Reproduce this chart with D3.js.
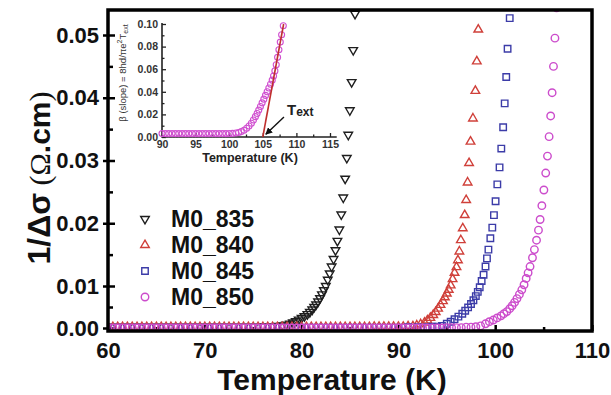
<!DOCTYPE html>
<html>
<head>
<meta charset="utf-8">
<script src="https://cdn.jsdelivr.net/npm/d3@7/dist/d3.min.js"></script>
<style>
  body { margin: 0; background: #fff; }
  svg { display: block; font-family: "Liberation Sans", Arial, sans-serif; }
</style>
</head>
<body>
<svg id="svg" width="611" height="395"></svg>
<script>
// main plot ticks
const X_TICKS = [60, 70, 80, 90, 100, 110];
const X_MINOR = [65, 75, 85, 95, 105];
const Y_TICKS = [0, 0.01, 0.02, 0.03, 0.04, 0.05];
const Y_MINOR = [0.005, 0.015, 0.025, 0.035, 0.045];

const SERIES_NAMES = ['M0_835', 'M0_840', 'M0_845', 'M0_850'];

// [temperature K, 1/dsigma]
const M0_835 = [
  [60, 0.0003], [61, 0.0003], [62, 0.0003], [63, 0.0003], [64, 0.0003], [65, 0.0003], [66, 0.0003],
  [67, 0.0003], [68, 0.0003], [69, 0.0003], [70, 0.0003], [71, 0.0003], [72, 0.0003], [73, 0.0003],
  [74, 0.0003], [75, 0.0003], [76, 0.0004], [77, 0.0004], [77.5, 0.0005], [78, 0.0006], [78.4, 0.0008],
  [78.8, 0.0010], [79.1, 0.0013], [79.4, 0.0016], [79.7, 0.0020], [80.0, 0.0024], [80.3, 0.0028],
  [80.6, 0.0033], [80.85, 0.0038], [81.1, 0.0044], [81.3, 0.0050], [81.5, 0.0056], [81.7, 0.0063],
  [81.9, 0.0071], [82.1, 0.0080], [82.3, 0.0090], [82.5, 0.0100], [82.7, 0.0110], [82.9, 0.0120],
  [83.1, 0.0131], [83.3, 0.0143], [83.5, 0.0157], [83.7, 0.0172], [83.9, 0.0190], [84.1, 0.0214],
  [84.3, 0.0241], [84.5, 0.0271], [84.67, 0.0304], [84.82, 0.0341], [84.98, 0.0380], [85.17, 0.0425],
  [85.33, 0.0476], [85.52, 0.0535]
];

const M0_840 = [
  [60, 0.0002], [60.5, 0.0002], [61, 0.0002], [61.5, 0.0002], [62, 0.0002], [62.5, 0.0002], [63, 0.0002],
  [63.5, 0.0002], [64, 0.0002], [64.5, 0.0002], [65, 0.0002], [65.5, 0.0002], [66, 0.0002], [66.5, 0.0002],
  [67, 0.0002], [67.5, 0.0002], [68, 0.0002], [68.5, 0.0002], [69, 0.0002], [69.5, 0.0002], [70, 0.0002],
  [70.5, 0.0002], [71, 0.0002], [71.5, 0.0002], [72, 0.0002], [72.5, 0.0002], [73, 0.0002], [73.5, 0.0002],
  [74, 0.0002], [74.5, 0.0002], [75, 0.0002], [75.5, 0.0002], [76, 0.0002], [76.5, 0.0002], [77, 0.0002],
  [77.5, 0.0002], [78, 0.0002], [78.5, 0.0002], [79, 0.0002], [79.5, 0.0002], [80, 0.0002], [80.5, 0.0002],
  [81, 0.0002], [81.5, 0.0002], [82, 0.0002], [82.5, 0.0002], [83, 0.0002], [83.5, 0.0002], [84, 0.0002],
  [84.5, 0.0002], [85, 0.0002], [85.5, 0.0002], [86, 0.0002], [86.5, 0.0002], [87, 0.0002], [87.5, 0.0003],
  [88, 0.0003], [88.5, 0.0003], [89, 0.0003], [89.5, 0.0003], [90, 0.0003], [90.5, 0.0003], [91, 0.0004],
  [91.5, 0.0004], [91.9, 0.0006], [92.3, 0.0009], [92.7, 0.0013], [93.0, 0.0018], [93.3, 0.0024],
  [93.6, 0.0031], [93.85, 0.0038], [94.1, 0.0046], [94.35, 0.0055], [94.6, 0.0064], [94.8, 0.0073],
  [95.0, 0.0082], [95.2, 0.0091], [95.4, 0.0101], [95.6, 0.0111], [95.8, 0.0121], [96.0, 0.0130],
  [96.15, 0.0141], [96.3, 0.0155], [96.45, 0.0173], [96.65, 0.0192], [96.85, 0.0213], [97.0, 0.0237],
  [97.15, 0.0265], [97.3, 0.0296], [97.45, 0.0330], [97.7, 0.0367], [97.95, 0.0411], [98.1, 0.0458],
  [98.25, 0.0509]
];

const M0_845 = [
  [60, 0.0001], [61, 0.0001], [62, 0.0001], [63, 0.0001], [64, 0.0001], [65, 0.0001], [66, 0.0001],
  [67, 0.0001], [68, 0.0001], [69, 0.0001], [70, 0.0001], [71, 0.0001], [72, 0.0001], [73, 0.0001],
  [74, 0.0001], [75, 0.0001], [76, 0.0001], [77, 0.0001], [78, 0.0001], [79, 0.0001], [80, 0.0001],
  [81, 0.0001], [82, 0.0001], [83, 0.0001], [84, 0.0001], [85, 0.0001], [86, 0.0001], [87, 0.0001],
  [88, 0.0001], [89, 0.0001], [90, 0.0001], [91, 0.0002], [92, 0.0002], [93, 0.0002], [93.5, 0.0003],
  [94, 0.0003], [94.5, 0.0005], [95.0, 0.0010], [95.4, 0.0015], [95.8, 0.0021], [96.2, 0.0027],
  [96.6, 0.0034], [96.9, 0.0041], [97.2, 0.0049], [97.5, 0.0057], [97.75, 0.0066], [98.0, 0.0076],
  [98.2, 0.0086], [98.4, 0.0097], [98.6, 0.0108], [98.8, 0.0118], [99.0, 0.0131], [99.15, 0.0144],
  [99.3, 0.0158], [99.5, 0.0176], [99.7, 0.0193], [99.87, 0.0213], [100.04, 0.0235], [100.22, 0.0262],
  [100.45, 0.0289], [100.63, 0.0319], [100.82, 0.0353], [100.98, 0.0391], [101.14, 0.0433],
  [101.28, 0.0478], [101.5, 0.0528]
];

const M0_850 = [
  [60, 0.0000], [60.5, 0.0000], [61, 0.0000], [61.5, 0.0000], [62, 0.0000], [62.5, 0.0000], [63, 0.0000],
  [63.5, 0.0000], [64, 0.0000], [64.5, 0.0000], [65, 0.0000], [65.5, 0.0000], [66, 0.0000], [66.5, 0.0000],
  [67, 0.0000], [67.5, 0.0000], [68, 0.0000], [68.5, 0.0000], [69, 0.0000], [69.5, 0.0000], [70, 0.0000],
  [70.5, 0.0000], [71, 0.0000], [71.5, 0.0000], [72, 0.0000], [72.5, 0.0000], [73, 0.0000], [73.5, 0.0000],
  [74, 0.0000], [74.5, 0.0000], [75, 0.0000], [75.5, 0.0000], [76, 0.0000], [76.5, 0.0000], [77, 0.0000],
  [77.5, 0.0000], [78, 0.0000], [78.5, 0.0000], [79, 0.0000], [79.5, 0.0000], [80, 0.0000], [80.5, 0.0000],
  [81, 0.0000], [81.5, 0.0000], [82, 0.0000], [82.5, 0.0000], [83, 0.0000], [83.5, 0.0000], [84, 0.0000],
  [84.5, 0.0000], [85, 0.0000], [85.5, 0.0000], [86, 0.0000], [86.5, 0.0000], [87, 0.0000], [87.5, 0.0000],
  [88, 0.0000], [88.5, 0.0000], [89, 0.0000], [89.5, 0.0000], [90, 0.0000], [90.5, 0.0000], [91, 0.0000],
  [91.5, 0.0000], [92, 0.0000], [92.5, 0.0000], [93, 0.0000], [93.5, 0.0000], [94, 0.0000], [94.5, 0.0000],
  [95, 0.0001], [95.5, 0.0001], [96, 0.0001], [96.5, 0.0001], [97, 0.0002], [97.5, 0.0002], [98, 0.0003],
  [98.5, 0.0005], [99.0, 0.0010], [99.4, 0.0015], [99.8, 0.0019], [100.2, 0.0024], [100.6, 0.0029],
  [100.9, 0.0034], [101.2, 0.0039], [101.5, 0.0046], [101.75, 0.0053], [102.0, 0.0061], [102.25, 0.0070],
  [102.5, 0.0080], [102.75, 0.0091], [102.98, 0.0102], [103.2, 0.0112], [103.4, 0.0121], [103.6, 0.0131],
  [103.85, 0.0145], [104.05, 0.0158], [104.27, 0.0173], [104.47, 0.0189], [104.64, 0.0206], [104.82, 0.0228],
  [105.03, 0.0253], [105.22, 0.0280], [105.4, 0.0307], [105.57, 0.0338], [105.73, 0.0371], [105.88, 0.0408],
  [106.02, 0.0450], [106.17, 0.0495], [106.34, 0.0545]
];

// inset: beta (slope) vs temperature, with linear fit giving T_ext
const INSET_X_TICKS = [90, 95, 100, 105, 110, 115];
const INSET_X_MINOR = [92.5, 97.5, 102.5, 107.5, 112.5];
const INSET_Y_TICKS = [0, 0.02, 0.04, 0.06, 0.08, 0.10];
const INSET_Y_MINOR = [0.01, 0.03, 0.05, 0.07, 0.09];
const INSET_DATA = [
  [90, 0.003], [90.5, 0.003], [91, 0.003], [91.5, 0.003], [92, 0.003], [92.5, 0.003], [93, 0.003],
  [93.5, 0.003], [94, 0.003], [94.5, 0.003], [95, 0.003], [95.5, 0.003], [96, 0.003], [96.5, 0.003],
  [97, 0.003], [97.5, 0.003], [98, 0.003], [98.5, 0.003], [99, 0.003], [99.5, 0.003], [100, 0.0031],
  [100.5, 0.0032], [101.0, 0.0035], [101.4, 0.0040], [101.8, 0.0048], [102.2, 0.0060], [102.6, 0.0077],
  [102.95, 0.0097], [103.3, 0.0122], [103.6, 0.0150], [103.9, 0.0180], [104.15, 0.0208], [104.4, 0.0238],
  [104.65, 0.0270], [104.9, 0.0302], [105.15, 0.0335], [105.4, 0.0368], [105.65, 0.0400], [105.9, 0.0433],
  [106.15, 0.0467], [106.4, 0.0503], [106.6, 0.0540], [106.8, 0.0585], [107.0, 0.0640], [107.2, 0.0705],
  [107.4, 0.0772], [107.6, 0.0840], [107.8, 0.0905], [108.05, 0.0985]
];
const INSET_FIT = [[105.0, 0], [108.1, 0.1]];
const T_EXT_LABEL = [108.6, 0.0195];
const T_EXT_ARROW = [[108.15, 0.0177], [105.45, 0.0025]];

const svg = d3.select('#svg');

const plotLeft = 108, plotRight = 592, plotTop = 10, plotBottom = 331;

const x = d3.scaleLinear().domain([60, 110]).range([plotLeft, plotRight]);
// the printed axis is squeezed between 0.00 and 0.01
const y = d3.scaleLinear()
  .domain([-0.0007, 0, 0.01, 0.05, 0.05414])
  .range([plotBottom, 328, 286, 35, plotTop]);

const defs = svg.append('defs');
defs.append('clipPath').attr('id', 'plotclip')
  .append('rect').attr('x', plotLeft).attr('y', plotTop)
  .attr('width', plotRight - plotLeft).attr('height', plotBottom - plotTop);

// ticks: x inward, y major ticks cross the axis
const gx = svg.append('g').attr('transform', `translate(0,${plotBottom})`)
  .call(d3.axisBottom(x).tickValues(X_TICKS).tickSize(-6).tickPadding(11).tickFormat(d3.format('d')));
gx.select('.domain').remove();
gx.selectAll('line').attr('stroke', '#000').attr('stroke-width', 2.5);
gx.selectAll('text').attr('font-size', 22).attr('font-weight', 'bold').attr('fill', '#111');
svg.append('g').attr('transform', `translate(0,${plotBottom})`)
  .call(d3.axisBottom(x).tickValues(X_MINOR).tickSize(-4).tickFormat(''))
  .call(g => g.select('.domain').remove())
  .selectAll('line').attr('stroke', '#000').attr('stroke-width', 2.5);

const gy = svg.append('g').attr('transform', `translate(${plotLeft},0)`)
  .call(d3.axisLeft(y).tickValues(Y_TICKS).tickSize(-7).tickPadding(9).tickFormat(d3.format('.2f')));
gy.select('.domain').remove();
gy.selectAll('line').attr('x1', -5).attr('stroke', '#000').attr('stroke-width', 2.5);
gy.selectAll('text').attr('font-size', 22).attr('font-weight', 'bold').attr('fill', '#111');
svg.append('g').attr('transform', `translate(${plotLeft},0)`)
  .call(d3.axisLeft(y).tickValues(Y_MINOR).tickSize(-5).tickFormat(''))
  .call(g => g.select('.domain').remove())
  .selectAll('line').attr('stroke', '#000').attr('stroke-width', 2.5);

// series
const series = [
  { name: SERIES_NAMES[0], data: M0_835, type: d3.symbolTriangle, rot: 180, size: 32, color: '#1e1e1e' },
  { name: SERIES_NAMES[1], data: M0_840, type: d3.symbolTriangle, rot: 0, size: 32, color: '#d0403a' },
  { name: SERIES_NAMES[2], data: M0_845, type: d3.symbolSquare, rot: 0, size: 42, color: '#3c3ca8' },
  { name: SERIES_NAMES[3], data: M0_850, type: d3.symbolCircle, rot: 0, size: 44, color: '#cc4ccc' }
];

const plot = svg.append('g').attr('clip-path', 'url(#plotclip)');
series.forEach(s => {
  plot.append('g').selectAll('path')
    .data(s.data)
    .enter()
    .append('path')
    .attr('d', d3.symbol().type(s.type).size(s.size))
    .attr('transform', d => `translate(${x(d[0])},${y(d[1])}) rotate(${s.rot})`)
    .attr('fill', 'none')
    .attr('stroke', s.color)
    .attr('stroke-width', 1.4);
});

// frame
svg.append('rect')
  .attr('x', plotLeft).attr('y', plotTop)
  .attr('width', plotRight - plotLeft).attr('height', plotBottom - plotTop)
  .attr('fill', 'none').attr('stroke', '#000').attr('stroke-width', 3.5);

// legend
const legend = svg.append('g');
series.forEach((s, i) => {
  const ly = 219 + i * 26;
  legend.append('path')
    .attr('d', d3.symbol().type(s.type).size(s.size))
    .attr('transform', `translate(145,${ly}) rotate(${s.rot})`)
    .attr('fill', 'none').attr('stroke', s.color).attr('stroke-width', 1.4);
  legend.append('text')
    .attr('x', 171).attr('y', ly + 8)
    .attr('font-size', 23).attr('font-weight', 'bold').attr('fill', '#111')
    .text(s.name);
});

// axis titles
svg.append('text')
  .attr('x', 332).attr('y', 390)
  .attr('text-anchor', 'middle').attr('font-size', 30).attr('font-weight', 'bold').attr('fill', '#111')
  .text('Temperature (K)');

const yt = svg.append('text')
  .attr('transform', 'translate(50,178) rotate(-90)')
  .attr('text-anchor', 'middle').attr('fill', '#111');
yt.append('tspan').attr('font-size', 32).attr('font-weight', 'bold').text('1/Δσ');
yt.append('tspan').attr('font-size', 30).attr('font-family', '"Liberation Serif", serif').text(' (Ω');
yt.append('tspan').attr('font-size', 30).attr('font-weight', 'bold').text('.cm');
yt.append('tspan').attr('font-size', 30).attr('font-family', '"Liberation Serif", serif').text(')');

// inset
const ix = d3.scaleLinear().domain([90, 115]).range([162, 330]);
const iy = d3.scaleLinear().domain([0, 0.10]).range([137, 24]);
const inset = svg.append('g');

const igx = inset.append('g').attr('transform', 'translate(0,137)')
  .call(d3.axisBottom(ix).tickValues(INSET_X_TICKS).tickSize(-4).tickPadding(3.5).tickFormat(d3.format('d')));
igx.select('.domain').remove();
igx.selectAll('text').attr('font-size', 10.5).attr('font-weight', 'bold').attr('fill', '#333');
inset.append('g').attr('transform', 'translate(0,137)')
  .call(d3.axisBottom(ix).tickValues(INSET_X_MINOR).tickSize(-2.5).tickFormat(''))
  .call(g => g.select('.domain').remove());

const igy = inset.append('g').attr('transform', 'translate(162,0)')
  .call(d3.axisLeft(iy).tickValues(INSET_Y_TICKS).tickSize(-4).tickPadding(4).tickFormat(d3.format('.2f')));
igy.select('.domain').remove();
igy.selectAll('text').attr('font-size', 10.5).attr('font-weight', 'bold').attr('fill', '#333');
inset.append('g').attr('transform', 'translate(162,0)')
  .call(d3.axisLeft(iy).tickValues(INSET_Y_MINOR).tickSize(-2.5).tickFormat(''))
  .call(g => g.select('.domain').remove());
inset.selectAll('.tick line').attr('stroke', '#222').attr('stroke-width', 1.3);

inset.append('path')
  .attr('d', `M162,${iy(0.10) - 1}V137H${ix(116)}`)
  .attr('fill', 'none').attr('stroke', '#222').attr('stroke-width', 1.6);

inset.append('g').selectAll('circle')
  .data(INSET_DATA)
  .enter()
  .append('circle')
  .attr('cx', d => ix(d[0]))
  .attr('cy', d => iy(d[1]))
  .attr('r', 3)
  .attr('fill', 'none')
  .attr('stroke', '#d050d0')
  .attr('stroke-width', 1.1);

inset.append('path')
  .datum(INSET_FIT)
  .attr('d', d3.line().x(d => ix(d[0])).y(d => iy(d[1])))
  .attr('stroke', '#c0302e').attr('stroke-width', 1.6).attr('fill', 'none');

defs.append('marker')
  .attr('id', 'arrow').attr('viewBox', '0 0 10 10').attr('refX', 9).attr('refY', 5)
  .attr('markerWidth', 5).attr('markerHeight', 5).attr('orient', 'auto')
  .append('path').attr('d', 'M0,0L10,5L0,10z').attr('fill', '#111');

inset.append('path')
  .datum(T_EXT_ARROW)
  .attr('d', d3.line().x(d => ix(d[0])).y(d => iy(d[1])))
  .attr('stroke', '#111').attr('stroke-width', 1.4).attr('fill', 'none')
  .attr('marker-end', 'url(#arrow)');

const tl = inset.append('text')
  .attr('x', ix(T_EXT_LABEL[0])).attr('y', iy(T_EXT_LABEL[1]))
  .attr('font-weight', 'bold').attr('fill', '#222');
tl.append('tspan').attr('font-size', 15).text('T');
tl.append('tspan').attr('font-size', 12).attr('dy', 1.5).text('ext');

inset.append('text')
  .attr('x', 250).attr('y', 162)
  .attr('text-anchor', 'middle').attr('font-size', 12.5).attr('font-weight', 'bold').attr('fill', '#222')
  .text('Temperature (K)');

const il = inset.append('text')
  .attr('transform', 'translate(126,73) rotate(-90)')
  .attr('text-anchor', 'middle').attr('font-size', 9.5).attr('fill', '#333');
il.append('tspan').text('β (slope) = 8hd/πe');
il.append('tspan').attr('font-size', 7).attr('dy', -4).text('2');
il.append('tspan').attr('dy', 4).text('T');
il.append('tspan').attr('font-size', 7).attr('dy', 2).text('ext');
</script>
</body>
</html>
